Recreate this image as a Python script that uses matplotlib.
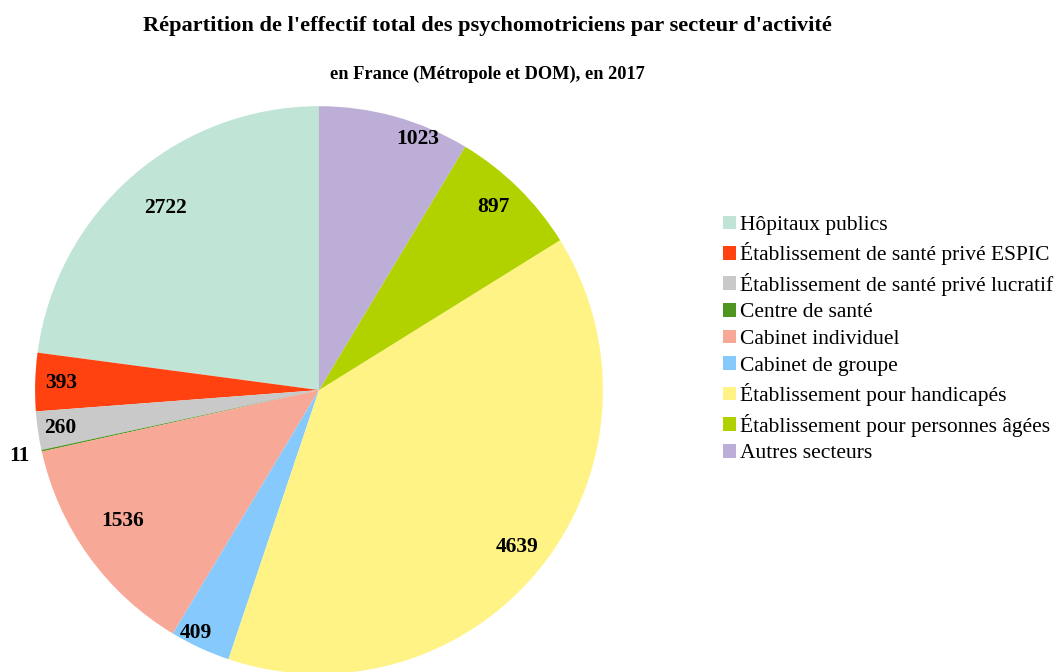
import numpy as np
import matplotlib.pyplot as plt
from matplotlib.patches import Patch

plt.rcParams['font.family'] = ['Liberation Serif', 'DejaVu Serif']

# donnees
secteurs = ['Hôpitaux publics', 'Établissement de santé privé ESPIC',
            'Établissement de santé privé lucratif', 'Centre de santé',
            'Cabinet individuel', 'Cabinet de groupe',
            'Établissement pour handicapés', 'Établissement pour personnes âgées',
            'Autres secteurs']
effectifs = [2722, 393, 260, 11, 1536, 409, 4639, 897, 1023]
couleurs = ['#c0e4d5', '#ff4210', '#c9c9c9', '#4f9620', '#f8a897',
            '#86c9fd', '#fff386', '#b2d200', '#bcaed6']

# position des etiquettes (distance au centre, decalage d'angle en degres)
dist_lab = [0.84, 0.91, 0.92, 1.08, 0.83, 0.96, 0.89, 0.89, 0.95]
dang_lab = [-1, 0, 0, 0, -2, -2, 0, 1, -6]

fig = plt.figure(figsize=(10.64, 6.72), dpi=100)
ax = fig.add_axes([0.0329, -0.003, 0.5338, 0.845])

wedges, _ = ax.pie(effectifs, colors=couleurs, startangle=90, counterclock=True,
                   radius=1, wedgeprops=dict(linewidth=0))
ax.set_xlim(-1, 1)
ax.set_ylim(-1, 1)
ax.set_aspect('equal')

for w, v, d, da in zip(wedges, effectifs, dist_lab, dang_lab):
    ang = np.deg2rad((w.theta1 + w.theta2) / 2 + da)
    ax.text(d * np.cos(ang), d * np.sin(ang), str(v), ha='center', va='center',
            fontsize=15.5, fontweight='bold')

fig.text(0.458, 0.962, "Répartition de l'effectif total des psychomotriciens par secteur d'activité",
         ha='center', va='center', fontsize=16.1, fontweight='bold')
fig.text(0.458, 0.89, "en France (Métropole et DOM), en 2017",
         ha='center', va='center', fontsize=13.2, fontweight='bold')

handles = [Patch(facecolor=c, edgecolor='none') for c in couleurs]
fig.legend(handles, secteurs, loc='upper left', bbox_to_anchor=(0.6715, 0.692),
           frameon=False, fontsize=15.5, handlelength=0.6, handleheight=0.6,
           handletextpad=0.2, labelspacing=0.34, borderaxespad=0)

fig.savefig('out.png', dpi=100)
